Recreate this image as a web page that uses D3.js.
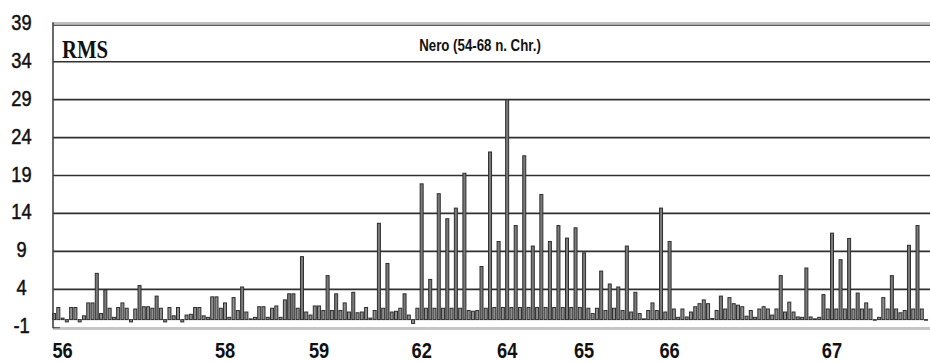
<!DOCTYPE html>
<html>
<head>
<meta charset="utf-8">
<script src="https://cdn.jsdelivr.net/npm/d3@7"></script>
<style>
  body { margin: 0; background: #fff; }
  svg { display: block; }
</style>
</head>
<body>
<svg width="930" height="362"></svg>
<script>
// RMS values, one per bar
const rms = [
  0.8, 1.6, 0.2, -0.3, 1.6, 1.6, -0.3, 0.5, 2.2, 2.2,
  6.1, 0.8, 3.9, 1.5, 0.3, 1.6, 2.2, 1.5, -0.3, 1.4,
  4.5, 1.7, 1.7, 1.5, 3.1, 1.5, -0.3, 1.6, 0.5, 1.6,
  -0.3, 0.6, 0.7, 1.6, 1.6, 0.5, 0.3, 3.0, 3.0, 1.5,
  2.2, 0.3, 2.9, 1.2, 4.3, 1.0, 0.1, 0.3, 1.7, 1.7,
  0.3, 1.5, 1.8, 0.3, 2.6, 3.4, 3.4, 1.5, 8.3, 1.0,
  0.6, 1.8, 1.8, 1.2, 5.8, 1.2, 3.4, 1.2, 2.2, 1.0,
  3.6, 0.9, 1.0, 1.6, 0.2, 1.2, 12.7, 1.5, 7.4, 1.0,
  1.1, 1.5, 3.4, 0.6, -0.5, 1.5, 17.9, 1.5, 5.3, 1.5,
  16.6, 1.5, 13.3, 1.5, 14.7, 1.5, 19.3, 1.2, 1.1, 1.2,
  7.0, 1.5, 22.1, 1.6, 10.3, 1.6, 29.0, 1.6, 12.4, 1.6,
  21.6, 1.6, 9.7, 1.6, 16.5, 1.6, 10.3, 1.6, 12.4, 1.6,
  10.75, 1.6, 12.1, 1.6, 8.8, 1.5, 0.8, 1.5, 6.4, 1.2,
  4.7, 1.5, 4.3, 1.2, 9.7, 1.0, 3.6, 0.8, 0.1, 1.2,
  2.2, 1.2, 14.7, 1.0, 10.3, 1.4, 0.3, 1.4, 0.35, 1.0,
  1.7, 2.1, 2.6, 2.1, 0.15, 1.2, 3.1, 1.4, 2.9, 2.1,
  1.9, 1.7, 0.45, 1.2, 0.3, 1.4, 1.7, 1.4, 0.6, 1.4,
  5.8, 1.0, 2.3, 1.0, 0.35, 0.3, 6.8, 0.35, 0.1, 0.3,
  3.3, 1.4, 11.4, 1.4, 7.9, 1.4, 10.7, 1.4, 3.5, 1.4,
  2.2, 1.4, 0, 0.3, 2.9, 1.4, 5.8, 1.4, 0.9, 1.2,
  9.8, 1.4, 12.4, 1.4, 0
];
const yTicks = [-1, 4, 9, 14, 19, 24, 29, 34, 39];
const xLabels = ["56", "58", "59", "62", "64", "65", "66", "67"];
const xLabelAt = [2, 40, 62, 86, 106, 124, 144, 182];
const seriesName = "RMS";
const title = "Nero (54-68 n. Chr.)";

const svg = d3.select("svg");

const x = d3.scaleBand()
  .domain(d3.range(rms.length))
  .range([51.9, 928.2]);

const y = d3.scaleLinear()
  .domain([-1, 39])
  .range([327.2, 23.8]);

const left = 53, right = 930;

// gridlines
svg.selectAll("line.grid")
  .data(yTicks.filter(d => d > -1 && d < 39))
  .enter()
  .append("line")
  .attr("class", "grid")
  .attr("x1", left).attr("x2", right)
  .attr("y1", d => y(d)).attr("y2", d => y(d))
  .attr("stroke", "#303030")
  .attr("stroke-width", 1.7);

// top double line
svg.append("line")
  .attr("x1", left).attr("x2", right)
  .attr("y1", y(39) - 0.8).attr("y2", y(39) - 0.8)
  .attr("stroke", "#a8a8a8").attr("stroke-width", 1.3);
svg.append("line")
  .attr("x1", left).attr("x2", right)
  .attr("y1", y(39) + 1.4).attr("y2", y(39) + 1.4)
  .attr("stroke", "#5a5a5a").attr("stroke-width", 1.4);

// bars
const bw = 3;
svg.selectAll("rect.bar")
  .data(rms)
  .enter()
  .append("rect")
  .attr("class", "bar")
  .attr("x", (d, i) => x(i) + (x.bandwidth() - bw) / 2)
  .attr("y", d => y(Math.max(0, d)))
  .attr("width", bw)
  .attr("height", d => Math.max(0.6, Math.abs(y(d) - y(0))))
  .attr("fill", d => d > 3 ? "#7a7a7a" : "#8e8e8e")
  .attr("stroke", "#2e2e2e")
  .attr("stroke-width", 1);

// bottom line and left axis
svg.append("line")
  .attr("x1", left).attr("x2", right)
  .attr("y1", y(-1) + 1.3).attr("y2", y(-1) + 1.3)
  .attr("stroke", "#c6c6c6").attr("stroke-width", 3);
svg.append("line")
  .attr("x1", left).attr("x2", left + 7)
  .attr("y1", y(-1) + 0.5).attr("y2", y(-1) + 0.5)
  .attr("stroke", "#555").attr("stroke-width", 1.2);
svg.append("line")
  .attr("x1", left).attr("x2", left)
  .attr("y1", y(39) - 1.5).attr("y2", y(-1) + 1)
  .attr("stroke", "#444").attr("stroke-width", 1.6);

// y labels
svg.selectAll("text.ylab")
  .data(yTicks)
  .enter()
  .append("text")
  .attr("class", "ylab")
  .attr("transform", d => `translate(21.5,${y(d) + 6}) scale(0.83,1)`)
  .attr("text-anchor", "middle")
  .attr("font-family", "Liberation Sans, Arial, sans-serif")
  .attr("font-size", 22)
  .attr("fill", "#111")
  .attr("stroke", "#111")
  .attr("stroke-width", 0.5)
  .text(d => d);

// x labels
svg.selectAll("text.xlab")
  .data(xLabels)
  .enter()
  .append("text")
  .attr("class", "xlab")
  .attr("transform", (d, i) => `translate(${x(xLabelAt[i]) + x.bandwidth() / 2},358) scale(0.83,1)`)
  .attr("text-anchor", "middle")
  .attr("font-family", "Liberation Sans, Arial, sans-serif")
  .attr("font-weight", "bold")
  .attr("font-size", 22)
  .attr("fill", "#111")
  .text(d => d);

svg.append("text")
  .attr("transform", "translate(62,58) scale(0.83,1)")
  .attr("font-family", "Liberation Serif, Times New Roman, serif")
  .attr("font-weight", "bold")
  .attr("font-size", 25)
  .attr("fill", "#111")
  .text(seriesName);

svg.append("text")
  .attr("transform", "translate(480,51) scale(0.83,1)")
  .attr("text-anchor", "middle")
  .attr("font-family", "Liberation Sans, Arial, sans-serif")
  .attr("font-weight", "bold")
  .attr("font-size", 16)
  .attr("fill", "#111")
  .text(title);
</script>
</body>
</html>
